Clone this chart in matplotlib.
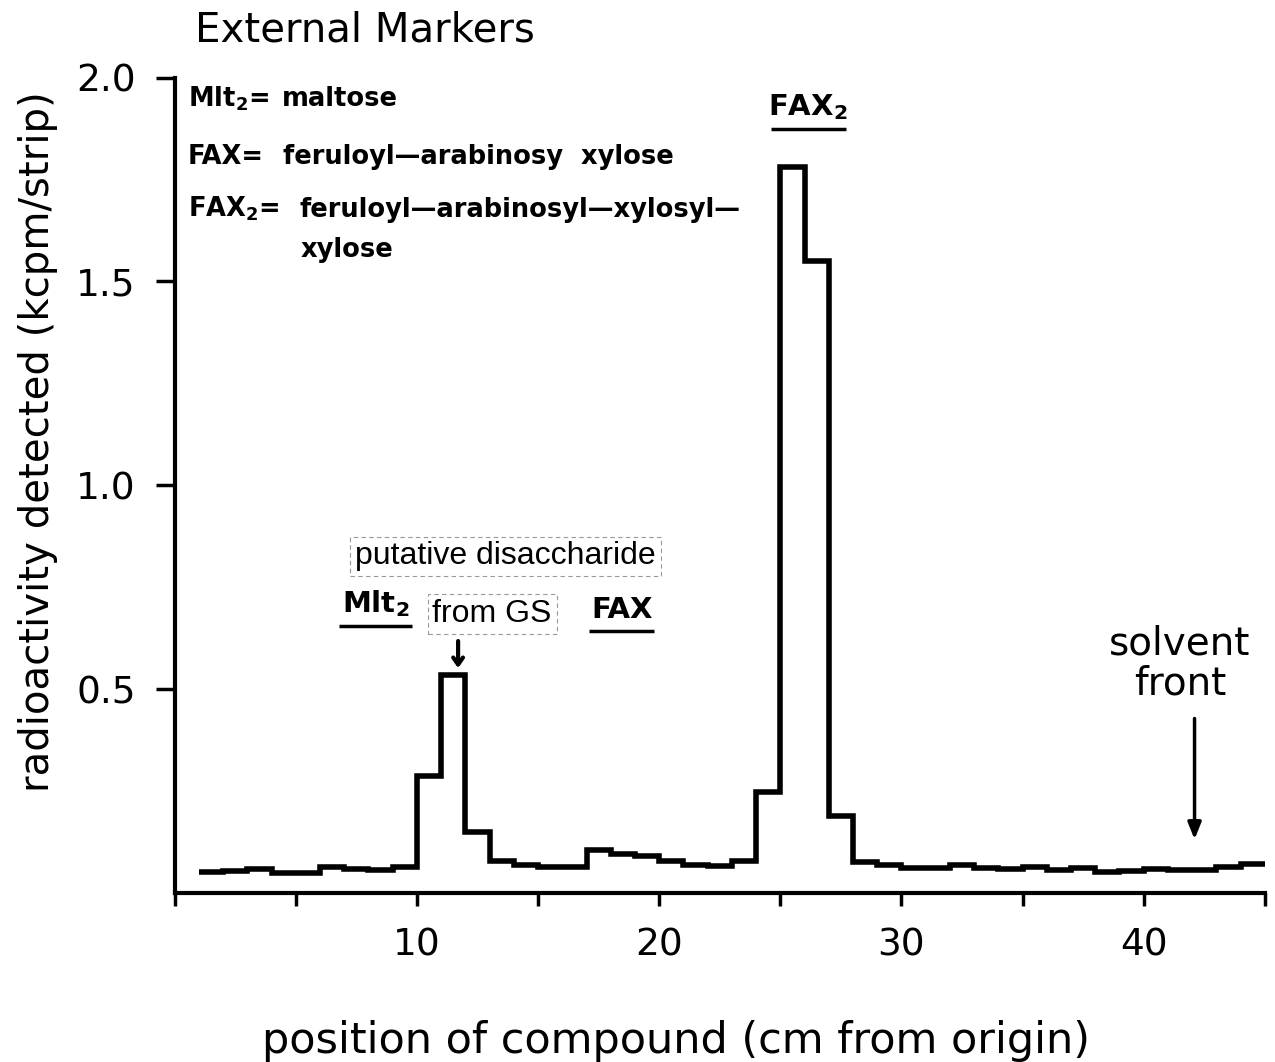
import numpy as np
import matplotlib
matplotlib.use("Agg")
import matplotlib.pyplot as plt

# radioactivity per 1 cm strip along the chromatogram
edges = np.arange(1, 46)
counts = [0.053, 0.055, 0.059, 0.049, 0.049, 0.064, 0.059, 0.056, 0.063, 0.287,
          0.534, 0.150, 0.078, 0.069, 0.064, 0.064, 0.105, 0.097, 0.092, 0.078,
          0.068, 0.066, 0.078, 0.248, 1.78, 1.55, 0.19, 0.077, 0.068, 0.061,
          0.061, 0.070, 0.062, 0.059, 0.064, 0.056, 0.061, 0.051, 0.054, 0.059,
          0.056, 0.056, 0.064, 0.071]

# external marker bands (label, x start, x end, y of bar)
marker_names = ["Mlt$_\\mathbf{2}$", "FAX", "FAX$_\\mathbf{2}$"]
marker_lo = [6.8, 17.1, 24.6]
marker_hi = [9.8, 19.8, 27.7]
marker_y = [0.655, 0.642, 1.873]

# key: abbreviation, its meaning, baseline of each row
key_abbr = ["Mlt$_\\mathbf{2}$=", "FAX=", "FAX$_\\mathbf{2}$="]
key_text = ["maltose",
            "feruloyl\u2014arabinosy  xylose",
            "feruloyl\u2014arabinosyl\u2014xylosyl\u2014"]
key_gap = [9, 14, 14]  # points between abbreviation and meaning
key_y = [1.929, 1.789, 1.659]

solvent_front = 42.1

plt.rcParams["font.family"] = ["DejaVu Sans"]
plt.rcParams["mathtext.fontset"] = "dejavusans"

fig = plt.figure(figsize=(12.75, 10.62), dpi=100)
ax = fig.add_axes([0.137, 0.159, 0.855, 0.768])

ax.stairs(counts, edges, color="black", lw=4, baseline=None)

ax.set_xlim(0, 45)
ax.set_ylim(0, 2.0)
for side in ["top", "right"]:
    ax.spines[side].set_visible(False)
for side in ["left", "bottom"]:
    ax.spines[side].set_linewidth(3)

ax.set_xticks([10, 20, 30, 40])
ax.set_xticks([0, 5, 15, 25, 35, 45], minor=True)
ax.set_yticks([0.5, 1.0, 1.5, 2.0])
ax.set_yticklabels(["0.5", "1.0", "1.5", "2.0"])
ax.tick_params(axis="both", which="both", direction="out", width=2.5,
               labelsize=27)
ax.tick_params(axis="x", which="both", length=9, pad=16)
ax.tick_params(axis="y", length=14, pad=14)

ax.set_xlabel("position of compound (cm from origin)", fontsize=31)
ax.xaxis.set_label_coords(0.46, -0.155)
ax.set_ylabel("radioactivity detected (kcpm/strip)", fontsize=29)
ax.yaxis.set_label_coords(-0.107, 0.553)

fig.text(0.153, 0.971, "External Markers", fontsize=29, ha="left",
         va="center")

# key to the abbreviations; meanings start just right of each abbreviation
abbr_texts = [ax.text(0.55, y, abbr, fontsize=18.5, fontweight="bold",
                      ha="left", va="baseline")
              for abbr, y in zip(key_abbr, key_y)]
fig.canvas.draw()
renderer = fig.canvas.get_renderer()
for t, txt, gap, y in zip(abbr_texts, key_text, key_gap, key_y):
    bb = t.get_window_extent(renderer)
    x0 = ax.transData.inverted().transform((bb.x1 + gap * fig.dpi / 72, 0))[0]
    ax.text(x0, y, txt, fontsize=18.5, fontweight="bold", ha="left",
            va="baseline")
ax.text(5.2, 1.561, "xylose", fontsize=18.5, fontweight="bold", ha="left",
        va="baseline")

# marker bands with their names
for name, lo, hi, y in zip(marker_names, marker_lo, marker_hi, marker_y):
    ax.plot([lo, hi], [y, y], color="black", lw=2.5, solid_capstyle="butt")
    ax.text((lo + hi) / 2, y + 0.018, name, fontsize=21, fontweight="bold",
            ha="center", va="bottom")

# putative disaccharide label
box = dict(boxstyle="square,pad=0.15", fc="white", ec="0.6", lw=0.8,
           ls=(0, (4, 3)))
ax.text(13.66, 0.826, "putative disaccharide", fontsize=23,
        family="Liberation Sans", ha="center", va="center", bbox=box)
ax.text(13.1, 0.684, "from GS", fontsize=23, family="Liberation Sans",
        ha="center", va="center", bbox=box)
ax.annotate("", xy=(11.7, 0.545), xytext=(11.7, 0.625),
            arrowprops=dict(arrowstyle="->,head_length=0.5,head_width=0.35",
                            color="black", lw=3))

# solvent front
ax.text(41.5, 0.563, "solvent\nfront", fontsize=28, ha="center", va="center",
        linespacing=1.05)
ax.annotate("", xy=(solvent_front, 0.125), xytext=(solvent_front, 0.435),
            arrowprops=dict(arrowstyle="-|>,head_length=1.0,head_width=0.4",
                            color="black", lw=2.5))

fig.savefig("out.png", dpi=100, facecolor="white")
